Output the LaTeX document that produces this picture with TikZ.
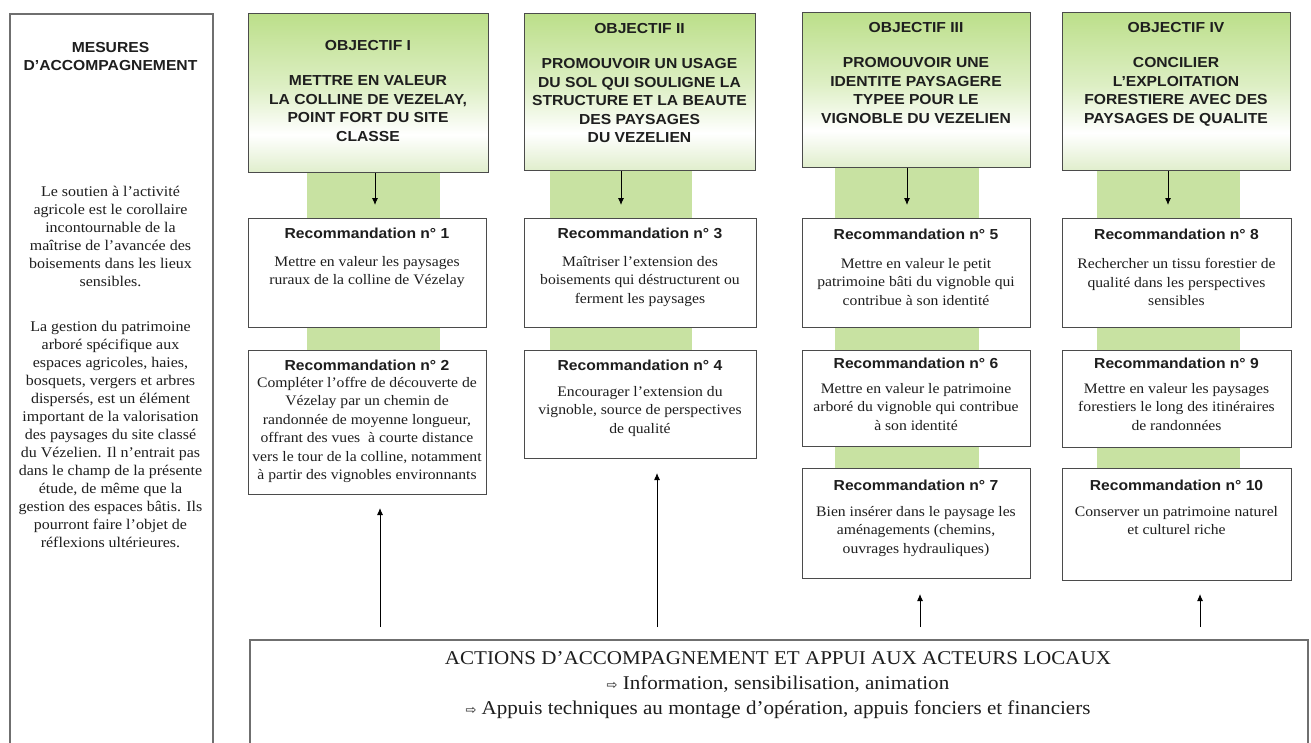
\documentclass[tikz,border=0pt]{standalone}
\usepackage{fontspec}
\setmainfont{Liberation Serif}[FakeStretch=1.08]
\setsansfont{Liberation Sans}[FakeStretch=1.08]
\newfontfamily\symfont{DejaVu Sans}
\usetikzlibrary{arrows.meta}
\definecolor{gbar}{RGB}{200,226,162}
\definecolor{gtop}{RGB}{188,223,138}
\definecolor{gbot}{RGB}{224,238,204}
\definecolor{frame}{RGB}{75,75,75}
\definecolor{ink}{RGB}{30,30,30}
\pgfdeclareverticalshading{objshade}{100bp}{color(0bp)=(gbot); color(25bp)=(gbot); color(37bp)=(white); color(52bp)=(white!50!gtop); color(75bp)=(gtop); color(100bp)=(gtop)}
\tikzset{
  objbox/.style={draw=frame, line width=1.4pt, shading=objshade, inner sep=0pt, anchor=north west},
  recbox/.style={draw=frame, line width=1.4pt, fill=white, inner sep=0pt, anchor=north west},
  sidebox/.style={draw=frame!80, line width=1.5pt, fill=white, inner sep=0pt, anchor=north west},
  objtxt/.style={font=\sffamily\bfseries\fontsize{14.5}{18.5}\selectfont, text=ink, align=center, anchor=north, inner sep=0pt},
  rectitle/.style={font=\sffamily\bfseries\fontsize{14.5}{18}\selectfont, text=ink, anchor=north, inner sep=0pt},
  recbody/.style={font=\fontsize{14.5}{18.6}\selectfont, text=ink, align=center, anchor=north, inner sep=0pt},
  lefttxt/.style={font=\fontsize{14.8}{18}\selectfont, text=ink, align=center, anchor=north, inner sep=0pt},
  acttxt/.style={font=\fontsize{19.5}{25}\selectfont, text=ink, align=center, anchor=north, inner sep=0pt},
  gbarfill/.style={fill=gbar, draw=none},
  arr/.style={-{Latex[length=7pt,width=6pt]}, line width=0.9pt, black}
}
\newcommand{\wa}{{\symfont\fontsize{13}{13}\selectfont ⇨}}
\begin{document}
\begin{tikzpicture}[x=1pt,y=-1pt]
\useasboundingbox (0,0) rectangle (1311,742);
\fill[white] (0,0) rectangle (1311,742);

% left column
\node[sidebox, minimum width=203pt, minimum height=745pt] (lb) at (9,13) {};
\node[objtxt] (lbt) at (110.5,42) {MESURES\\D’ACCOMPAGNEMENT};
\node[lefttxt] (lp1) at (110.5,186) {Le soutien à l’activité\\agricole est le corollaire\\incontournable de la\\maîtrise de l’avancée des\\boisements dans les lieux\\sensibles.};
\node[lefttxt] (lp2) at (110.5,321) {La gestion du patrimoine\\arboré spécifique aux\\espaces agricoles, haies,\\bosquets, vergers et arbres\\dispersés, est un élément\\important de la valorisation\\des paysages du site classé\\du Vézelien. Il n’entrait pas\\dans le champ de la présente\\étude, de même que la\\gestion des espaces bâtis. Ils\\pourront faire l’objet de\\réflexions ultérieures.};

% green bars
\fill[gbarfill] (307,170) rectangle (440,218);
\fill[gbarfill] (307,327) rectangle (440,350);
\fill[gbarfill] (550,168) rectangle (692,218);
\fill[gbarfill] (550,327) rectangle (692,350);
\fill[gbarfill] (835,165) rectangle (979,218);
\fill[gbarfill] (835,327) rectangle (979,350);
\fill[gbarfill] (835,446) rectangle (979,468);
\fill[gbarfill] (1097,168) rectangle (1240,218);
\fill[gbarfill] (1097,327) rectangle (1240,350);
\fill[gbarfill] (1097,447) rectangle (1240,468);

% objectives
\node[objbox, minimum width=240pt, minimum height=159pt] (o1) at (248,13) {};
\node[objbox, minimum width=231pt, minimum height=157pt] (o2) at (524,13) {};
\node[objbox, minimum width=228pt, minimum height=155pt] (o3) at (802,12) {};
\node[objbox, minimum width=228pt, minimum height=158pt] (o4) at (1062,12) {};
\node[objtxt] (o1t) at (368,40) {OBJECTIF I\\[17pt]METTRE EN VALEUR\\LA COLLINE DE VEZELAY,\\POINT FORT DU SITE\\CLASSE};
\node[objtxt] (o2t) at (639.5,23) {OBJECTIF II\\[17pt]PROMOUVOIR UN USAGE\\DU SOL QUI SOULIGNE LA\\STRUCTURE ET LA BEAUTE\\DES PAYSAGES\\DU VEZELIEN};
\node[objtxt] (o3t) at (916,22) {OBJECTIF III\\[17pt]PROMOUVOIR UNE\\IDENTITE PAYSAGERE\\TYPEE POUR LE\\VIGNOBLE DU VEZELIEN};
\node[objtxt] (o4t) at (1176,22) {OBJECTIF IV\\[17pt]CONCILIER\\L’EXPLOITATION\\FORESTIERE AVEC DES\\PAYSAGES DE QUALITE};

% recommendations
\node[recbox, minimum width=238pt, minimum height=109pt] (r1) at (248,218) {};
\node[recbox, minimum width=238pt, minimum height=144pt] (r2) at (248,350) {};
\node[recbox, minimum width=232pt, minimum height=109pt] (r3) at (524,218) {};
\node[recbox, minimum width=232pt, minimum height=108pt] (r4) at (524,350) {};
\node[recbox, minimum width=228pt, minimum height=109pt] (r5) at (802,218) {};
\node[recbox, minimum width=228pt, minimum height=96pt] (r6) at (802,350) {};
\node[recbox, minimum width=228pt, minimum height=110pt] (r7) at (802,468) {};
\node[recbox, minimum width=229pt, minimum height=109pt] (r8) at (1062,218) {};
\node[recbox, minimum width=229pt, minimum height=97pt] (r9) at (1062,350) {};
\node[recbox, minimum width=229pt, minimum height=112pt] (r10) at (1062,468) {};

\node[rectitle] (r1h) at (367,228) {Recommandation n° 1};
\node[rectitle] (r2h) at (367,360) {Recommandation n° 2};
\node[rectitle] (r3h) at (640,228) {Recommandation n° 3};
\node[rectitle] (r4h) at (640,360) {Recommandation n° 4};
\node[rectitle] (r5h) at (916,229) {Recommandation n° 5};
\node[rectitle] (r6h) at (916,358) {Recommandation n° 6};
\node[rectitle] (r7h) at (916,480) {Recommandation n° 7};
\node[rectitle] (r8h) at (1176.5,229) {Recommandation n° 8};
\node[rectitle] (r9h) at (1176.5,358) {Recommandation n° 9};
\node[rectitle] (r10h) at (1176.5,480) {Recommandation n° 10};

\node[recbody] (r1b) at (367,256) {Mettre en valeur les paysages\\ruraux de la colline de Vézelay};
\node[recbody, font=\fontsize{14.5}{18.4}\selectfont] (r2b) at (367,377) {Compléter l’offre de découverte de\\Vézelay par un chemin de\\randonnée de moyenne longueur,\\offrant des vues~ à courte distance\\vers le tour de la colline, notamment\\à partir des vignobles environnants};
\node[recbody] (r3b) at (640,256) {Maîtriser l’extension des\\boisements qui déstructurent ou\\ferment les paysages};
\node[recbody] (r4b) at (640,386) {Encourager l’extension du\\vignoble, source de perspectives\\de qualité};
\node[recbody] (r5b) at (916,258) {Mettre en valeur le petit\\patrimoine bâti du vignoble qui\\contribue à son identité};
\node[recbody] (r6b) at (916,383) {Mettre en valeur le patrimoine\\arboré du vignoble qui contribue\\à son identité};
\node[recbody] (r7b) at (916,506) {Bien insérer dans le paysage les\\aménagements (chemins,\\ouvrages hydrauliques)};
\node[recbody] (r8b) at (1176.5,258) {Rechercher un tissu forestier de\\qualité dans les perspectives\\sensibles};
\node[recbody] (r9b) at (1176.5,383) {Mettre en valeur les paysages\\forestiers le long des itinéraires\\de randonnées};
\node[recbody] (r10b) at (1176.5,506) {Conserver un patrimoine naturel\\et culturel riche};

% arrows from objectives
\coordinate (d1) at (375,205);
\coordinate (d2) at (621,205);
\coordinate (d3) at (907,205);
\coordinate (d4) at (1168,205);
\draw[arr] (o1.south -| d1) -- (d1);
\draw[arr] (o2.south -| d2) -- (d2);
\draw[arr] (o3.south -| d3) -- (d3);
\draw[arr] (o4.south -| d4) -- (d4);

% bottom box
\node[sidebox, minimum width=1058pt, minimum height=115pt] (act) at (249,639) {};
\node[acttxt] (actt) at (778,651.5) {ACTIONS D’ACCOMPAGNEMENT ET APPUI AUX ACTEURS LOCAUX\\\wa{} Information, sensibilisation, animation\\\wa{} Appuis techniques au montage d’opération, appuis fonciers et financiers};

% arrows from bottom box
\coordinate (u1a) at (380,627); \coordinate (u1b) at (380,508);
\coordinate (u2a) at (657,627); \coordinate (u2b) at (657,473);
\coordinate (u3a) at (920,627); \coordinate (u3b) at (920,594);
\coordinate (u4a) at (1200,627); \coordinate (u4b) at (1200,594);
\draw[arr] (u1a) -- (u1b);
\draw[arr] (u2a) -- (u2b);
\draw[arr] (u3a) -- (u3b);
\draw[arr] (u4a) -- (u4b);
\end{tikzpicture}
\end{document}
